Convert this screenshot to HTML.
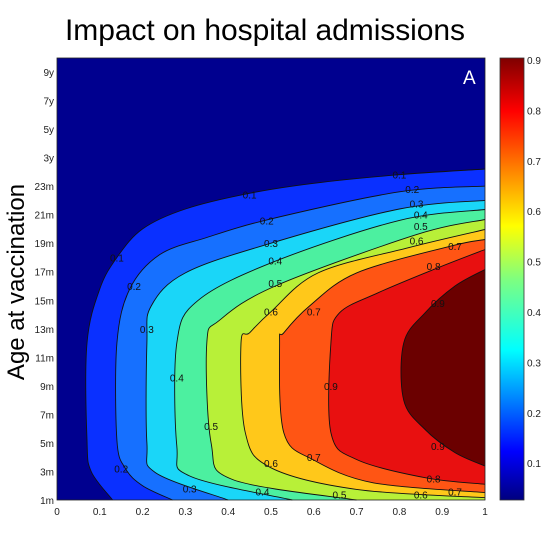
<!DOCTYPE html>
<html><head><meta charset="utf-8"><style>
body{margin:0;background:#fff;width:554px;height:545px;overflow:hidden;font-family:"Liberation Sans",sans-serif}
</style></head><body>
<svg width="554" height="545" xmlns="http://www.w3.org/2000/svg">
<defs>
<linearGradient id="jet" x1="0" y1="1" x2="0" y2="0">
<stop offset="0" stop-color="#00007f"/><stop offset="0.11" stop-color="#0000ff"/>
<stop offset="0.34" stop-color="#00ffff"/><stop offset="0.5" stop-color="#7fff7f"/>
<stop offset="0.62" stop-color="#ffff00"/><stop offset="0.75" stop-color="#ff8000"/>
<stop offset="0.88" stop-color="#ff0000"/><stop offset="1" stop-color="#7f0000"/>
</linearGradient>
</defs>
<text x="265" y="40" font-size="30" text-anchor="middle" textLength="400">Impact on hospital admissions</text>
<text transform="translate(24,282) rotate(-90)" font-size="24" text-anchor="middle">Age at vaccination</text>
<g id="plot"></g>
<g id="axes"></g>
<rect x="500" y="58" width="24" height="442" fill="url(#jet)" stroke="#333" stroke-width="0.8"/>
<text x="463" y="84" font-size="19" fill="#fff">A</text>
</svg>
<script>
const yCats=['1m','3m','5m','7m','9m','11m','13m','15m','17m','19m','21m','23m','3y','5y','7y','9y'];
const xTicks=[0,0.1,0.2,0.3,0.4,0.5,0.6,0.7,0.8,0.9,1];
const cbTicks=[0.1,0.2,0.3,0.4,0.5,0.6,0.7,0.8,0.9];
const levels=[0.1,0.2,0.3,0.4,0.5,0.6,0.7,0.8,0.9];
const levelColors=['#0a30ff','#1670ff','#1ad6f8','#4cf0a0','#b8f038','#ffc81a','#ff5514','#e81010','#6b0000'];
const c01=[[1,11.6],[0.8,11.4],[0.6,11.1],[0.45,10.75],[0.3,10.2],[0.2,9.5],[0.14,8.5],[0.1,7.4],[0.07,5.5],[0.07,2.1],[0.08,1],[0.13,0]];
const c02=[[1,11.0],[0.8,10.8],[0.5,9.85],[0.35,9.2],[0.24,8.6],[0.17,7.4],[0.14,5.5],[0.14,2.1],[0.16,1.1],[0.2,0.5],[0.27,0]];
const c03=[[1,10.5],[0.8,10.2],[0.5,9.0],[0.3,7.96],[0.22,6.8],[0.21,5.5],[0.21,2.0],[0.23,0.96],[0.4,0]];
const c04=[[1,10.18],[0.8,9.8],[0.51,8.37],[0.33,7.0],[0.28,5.5],[0.28,1.9],[0.31,0.84],[0.55,0]];
const c05=[[1,9.83],[0.84,9.3],[0.51,7.5],[0.38,6.3],[0.35,5.5],[0.36,2.0],[0.41,0.72],[0.7,0]];
const c06=[[1,9.48],[0.82,8.84],[0.61,7.96],[0.5,6.6],[0.45,5.86],[0.43,5.5],[0.44,2.36],[0.5,1.13],[0.7,0.37],[1,0.08]];
const c07=[[1,9.13],[0.92,8.9],[0.7,7.96],[0.59,6.8],[0.53,5.86],[0.52,5.5],[0.53,2.36],[0.6,1.4],[0.74,0.6],[1,0.26]];
const c08=[[1,8.78],[0.88,8.08],[0.75,7.26],[0.66,6.56],[0.64,5.5],[0.64,2.36],[0.7,1.42],[0.86,0.78],[1,0.55]];
const c09=[[1,8.08],[0.93,7.5],[0.86,6.56],[0.81,5.5],[0.81,3.5],[0.86,2.47],[0.93,1.66],[1,1.19]];
const contours=[c01,c02,c03,c04,c05,c06,c07,c08,c09];
const labels=[[0.1,0.45,10.7],[0.1,0.8,11.4],[0.1,0.14,8.5],[0.2,0.49,9.8],[0.2,0.83,10.9],[0.2,0.18,7.5],[0.2,0.15,1.1],[0.3,0.5,9.0],[0.3,0.84,10.4],[0.3,0.21,6.0],[0.3,0.31,0.4],[0.4,0.51,8.4],[0.4,0.85,10.0],[0.4,0.28,4.3],[0.4,0.48,0.3],[0.5,0.51,7.6],[0.5,0.85,9.6],[0.5,0.36,2.6],[0.5,0.66,0.2],[0.6,0.5,6.6],[0.6,0.84,9.1],[0.6,0.5,1.3],[0.6,0.85,0.2],[0.7,0.6,6.6],[0.7,0.93,8.9],[0.7,0.6,1.5],[0.7,0.93,0.3],[0.8,0.88,8.2],[0.8,0.88,0.75],[0.9,0.89,6.9],[0.9,0.64,4.0],[0.9,0.89,1.9]];
const L=57,R=485,T=58,B=500;
const sx=v=>L+v*(R-L);
const sy=i=>B-i*(B-72)/15;
const cy=v=>60+(0.9-v)*504;
const NS='http://www.w3.org/2000/svg';
const plot=document.getElementById('plot'),axes=document.getElementById('axes');
function mk(tag,attrs,parent){const e=document.createElementNS(NS,tag);for(const k in attrs)e.setAttribute(k,attrs[k]);parent.appendChild(e);return e;}
function smooth(p){
  let d='M'+p[0][0].toFixed(1)+','+p[0][1].toFixed(1);
  for(let i=0;i<p.length-1;i++){
    const p0=p[Math.max(0,i-1)],p1=p[i],p2=p[i+1],p3=p[Math.min(p.length-1,i+2)];
    const c1=[p1[0]+(p2[0]-p0[0])/6,p1[1]+(p2[1]-p0[1])/6];
    const c2=[p2[0]-(p3[0]-p1[0])/6,p2[1]-(p3[1]-p1[1])/6];
    d+='C'+c1[0].toFixed(1)+','+c1[1].toFixed(1)+' '+c2[0].toFixed(1)+','+c2[1].toFixed(1)+' '+p2[0].toFixed(1)+','+p2[1].toFixed(1);
  }
  return d;
}
const bg=mk('rect',{x:L,y:T,width:R-L,height:B-T,fill:'#00008f'},plot);


contours.forEach((pts,k)=>{
  const p=pts.map(q=>[sx(q[0]),sy(q[1])]);
  const line=smooth(p);
  const last=pts[pts.length-1];
  let d=line;
  if(last[0]<1)d+='L'+sx(1)+','+sy(0);
  d+='Z';
  const f=mk('path',{d:d,fill:levelColors[k],stroke:'none'},plot);
  
  
  const ln=mk('path',{d:line,fill:'none',stroke:'#111',"stroke-width":0.9},plot);
  
  
});
labels.forEach(l=>{
  const t=mk('text',{x:sx(l[1]),y:sy(l[2])+4,"font-size":10,"text-anchor":"middle",fill:'#111'},plot);
  t.textContent=l[0].toFixed(1);
  
  
});
const fr=mk('rect',{x:L,y:T,width:R-L,height:B-T,fill:'none',stroke:'#222',"stroke-width":0.8},axes);


yCats.forEach((c,i)=>{
  const t=mk('text',{x:L-3,y:sy(i)+4,"font-size":10,"text-anchor":"end",fill:'#222'},axes);
  t.textContent=c;
  
  
});
xTicks.forEach(v=>{
  const t=mk('text',{x:sx(v),y:B+15,"font-size":10,"text-anchor":"middle",fill:'#222'},axes);
  t.textContent=String(v);
  
  
});
cbTicks.forEach(v=>{
  const t=mk('text',{x:527,y:cy(v)+4,"font-size":10,fill:'#222'},axes);
  t.textContent=v.toFixed(1);
  
  
  mk('line',{x1:500,x2:503,y1:cy(v),y2:cy(v),stroke:'#333'},axes);
  mk('line',{x1:521,x2:524,y1:cy(v),y2:cy(v),stroke:'#333'},axes);
});
</script>
</body></html>
